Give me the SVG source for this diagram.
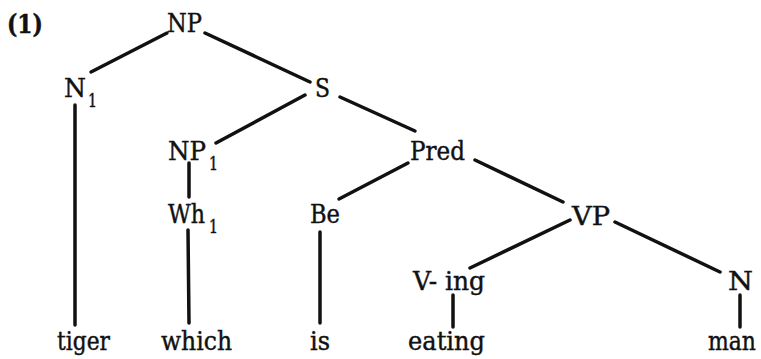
<svg xmlns="http://www.w3.org/2000/svg" width="761" height="359" viewBox="0 0 761 359">
<style>
text{font-family:"DejaVu Serif",serif;font-size:26px;fill:#111;stroke:#111;stroke-width:0.45}
.sub{font-size:18px}
.b{font-weight:bold}
#edges line{stroke:#111;stroke-width:3.5;stroke-linecap:round}
</style>
<rect width="761" height="359" fill="#fff"/>
<text class="b" x="7" y="33" textLength="36" lengthAdjust="spacingAndGlyphs">(1)</text>
<g id="edges">
<line x1="167" y1="33" x2="91" y2="72"/>
<line x1="205" y1="33" x2="310" y2="82"/>
<line x1="75" y1="105" x2="75" y2="325"/>
<line x1="305" y1="95" x2="216" y2="143"/>
<line x1="340" y1="97" x2="415" y2="131"/>
<line x1="189" y1="163" x2="189" y2="197"/>
<line x1="188" y1="230" x2="189" y2="323"/>
<line x1="408" y1="163" x2="339" y2="199"/>
<line x1="320" y1="232" x2="320" y2="323"/>
<line x1="475" y1="160" x2="563" y2="202"/>
<line x1="570" y1="220" x2="470" y2="268"/>
<line x1="615" y1="222" x2="720" y2="272"/>
<line x1="453" y1="295" x2="453" y2="327"/>
<line x1="740" y1="295" x2="740" y2="327"/>
</g>
<g id="NP"><text x="167" y="32" textLength="35" lengthAdjust="spacingAndGlyphs">NP</text></g>
<g id="N1"><text x="64" y="97" textLength="22" lengthAdjust="spacingAndGlyphs">N</text><text class="sub" x="88" y="107" textLength="9" lengthAdjust="spacingAndGlyphs">1</text></g>
<g id="S"><text x="315" y="97" textLength="15" lengthAdjust="spacingAndGlyphs">S</text></g>
<g id="NP1"><text x="168" y="160" textLength="38" lengthAdjust="spacingAndGlyphs">NP</text><text class="sub" x="209" y="170" textLength="9" lengthAdjust="spacingAndGlyphs">1</text></g>
<g id="Pred"><text x="410" y="160" textLength="55" lengthAdjust="spacingAndGlyphs">Pred</text></g>
<g id="Wh1"><text x="168" y="223" textLength="37" lengthAdjust="spacingAndGlyphs">Wh</text><text class="sub" x="209" y="233" textLength="9" lengthAdjust="spacingAndGlyphs">1</text></g>
<g id="Be"><text x="310" y="223" textLength="30" lengthAdjust="spacingAndGlyphs">Be</text></g>
<g id="VP"><text x="572" y="225" textLength="38" lengthAdjust="spacingAndGlyphs">VP</text></g>
<g id="Ving"><text x="413" y="290" textLength="72" lengthAdjust="spacingAndGlyphs">V- ing</text></g>
<g id="N"><text x="728" y="290" textLength="25" lengthAdjust="spacingAndGlyphs">N</text></g>
<g id="tiger"><text x="57" y="350" textLength="53" lengthAdjust="spacingAndGlyphs">tiger</text></g>
<g id="which"><text x="161" y="350" textLength="71" lengthAdjust="spacingAndGlyphs">which</text></g>
<g id="is"><text x="310" y="350" textLength="20" lengthAdjust="spacingAndGlyphs">is</text></g>
<g id="eating"><text x="408" y="350" textLength="77" lengthAdjust="spacingAndGlyphs">eating</text></g>
<g id="man"><text x="708" y="350" textLength="48" lengthAdjust="spacingAndGlyphs">man</text></g>
</svg>
